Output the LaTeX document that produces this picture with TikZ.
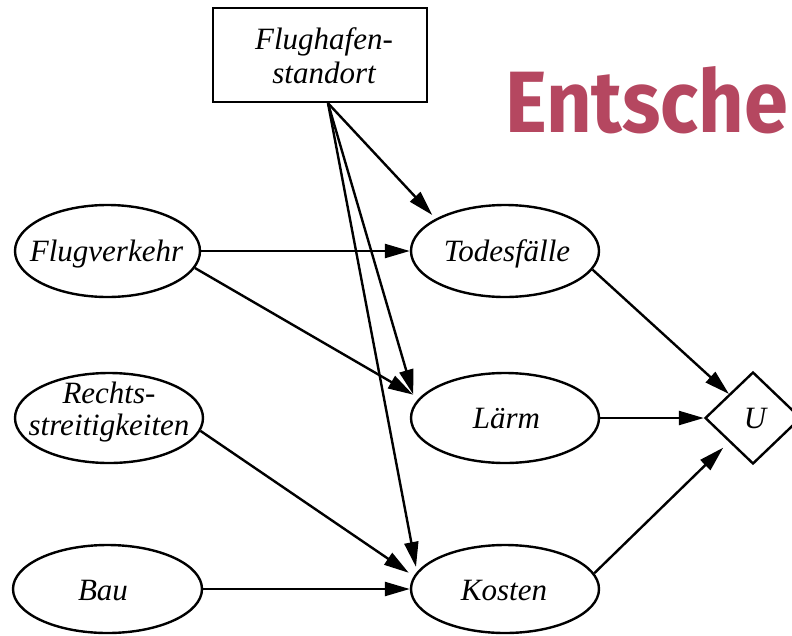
\documentclass[tikz,border=0pt]{standalone}
\usepackage{graphicx}
\usepackage{fontspec}
\setmainfont{Liberation Serif}
\newfontfamily\titlefont{Fira Sans}
\usetikzlibrary{shapes.geometric,arrows.meta}
\definecolor{titlered}{RGB}{181,71,96}
\begin{document}
\begin{tikzpicture}[x=1pt,y=-1pt,
  every node/.style={inner sep=0pt},
  lbl/.style={font=\fontsize{31}{34}\selectfont\itshape},
  oval/.style={draw, ellipse, line width=2.4pt, minimum width=188pt, minimum height=90pt},
  conn/.style={line width=2.4pt, -{Triangle[length=25pt,width=14pt]}},
]
\useasboundingbox (0,0) rectangle (792,635);
% title fragment
\node[anchor=base west, text=titlered] (title) at (505,132) {\resizebox{283pt}{66pt}{\titlefont\bfseries Entsche}};
% decision node
\node[draw, line width=2.4pt, minimum width=214pt, minimum height=94pt] (F) at (320,55) {};
\node[lbl, align=center] (Ft) at (324,55.5) {Flughafen-\\standort};
% chance nodes
\node[oval, minimum width=185pt, minimum height=92pt] (Flug) at (107.5,251) {};
\node[lbl, anchor=base] (FlugT) at (106.5,261.5) {Flugverkehr};
\node[oval, minimum height=92pt] (Todes) at (505,251) {};
\node[lbl, anchor=base] (TodesT) at (507,261.5) {Todesfälle};
\node[oval] (Rechts) at (109,418) {};
\node[lbl, align=center, font=\fontsize{31}{32}\selectfont\itshape] (RechtsT) at (109,412) {Rechts-\\streitigkeiten};
\node[oval] (Laerm) at (505,418) {};
\node[lbl, anchor=base] (LaermT) at (506.5,428) {Lärm};
\node[oval, minimum width=189pt, minimum height=88pt] (Bau) at (107.5,589) {};
\node[lbl, anchor=base] (BauT) at (103,600) {Bau};
\node[oval, minimum height=88pt] (Kosten) at (505,589) {};
\node[lbl, anchor=base] (KostenT) at (504,600) {Kosten};
% utility node
\node[draw, diamond, line width=2.4pt, minimum width=96pt, minimum height=92pt] (U) at (753,418) {};
\node[lbl, anchor=base] (UT) at (755,428) {U};
% connectors
\coordinate (fs) at ([xshift=8pt]F.south);
\draw[conn] (Flug.east) -- (Todes.west);
\draw[conn, shorten >=7pt] (Flug.-11) -- (Laerm.167);
\draw[conn, shorten >=6pt] (Rechts.-8) -- (Kosten.172);
\draw[conn] (Bau.east) -- (Kosten.west);
\draw[conn, shorten >=5pt] (fs) -- (Todes.155);
\draw[conn, shorten >=8pt] (fs) -- (Laerm.170);
\draw[conn, shorten >=5pt] (fs) -- (Kosten.169);
\draw[conn] (Todes.-12) -- (U.135);
\draw[conn] (Laerm.east) -- (U.west);
\draw[conn, shorten >=8pt] (Kosten.10) -- (U.-135);
\end{tikzpicture}
\end{document}
